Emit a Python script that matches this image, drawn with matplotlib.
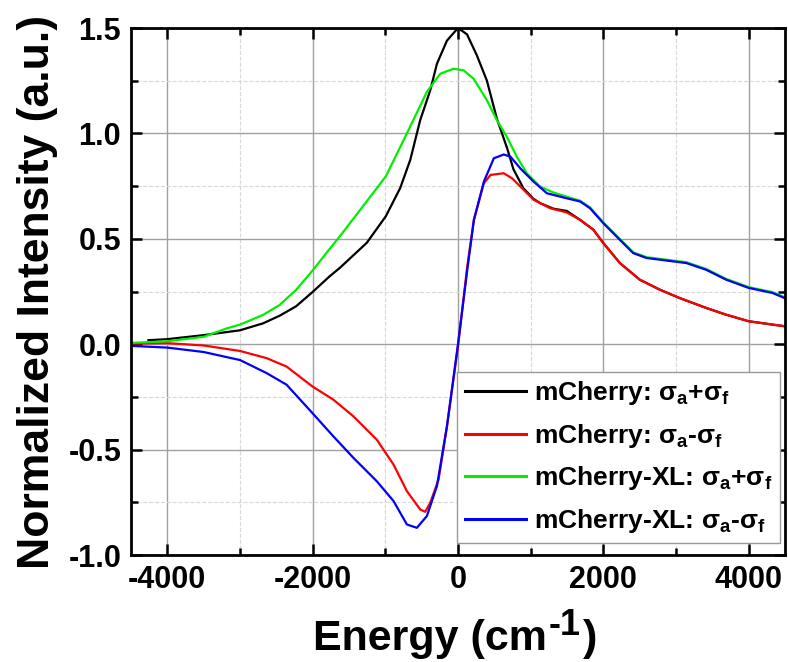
import numpy as np
import matplotlib.pyplot as plt
from matplotlib.ticker import MultipleLocator

plt.rcParams['font.family'] = ['Liberation Sans', 'DejaVu Sans']
plt.rcParams['mathtext.fontset'] = 'custom'
plt.rcParams['mathtext.rm'] = 'Liberation Sans:bold'
plt.rcParams['mathtext.bf'] = 'Liberation Sans:bold'
plt.rcParams['mathtext.default'] = 'rm'
plt.rcParams['axes.unicode_minus'] = False

# mCherry: sigma_a + sigma_f
energy_mc_sum = [-4260, -4000, -3500, -3000, -2682, -2455, -2227, -2000, -1773, -1623,
                 -1255, -993, -795, -657, -520, -382, -290, -152, 0, 124, 260, 398,
                 535, 676, 763, 900, 1038, 1132, 1312, 1498, 1680, 1863, 2000, 2228,
                 2502, 2776, 3050, 3416, 3690, 4000, 4329, 4500]
int_mc_sum = [0.019, 0.024, 0.043, 0.066, 0.099, 0.135, 0.180, 0.248, 0.320, 0.363,
              0.481, 0.607, 0.741, 0.874, 1.063, 1.204, 1.330, 1.440, 1.500, 1.470,
              1.370, 1.250, 1.070, 0.930, 0.830, 0.740, 0.690, 0.669, 0.643, 0.632,
              0.590, 0.543, 0.480, 0.385, 0.306, 0.259, 0.219, 0.172, 0.140, 0.109,
              0.093, 0.085]

# mCherry: sigma_a - sigma_f
energy_mc_diff = [-4500, -4000, -3500, -3000, -2634, -2359, -2005, -1715, -1439, -1117,
                  -887, -703, -520, -451, -382, -267, -152, 0, 128, 219, 356, 447, 630,
                  744, 858, 1041, 1269, 1498, 1680, 1863, 2000, 2228, 2502, 2776, 3050,
                  3416, 3690, 4000, 4329, 4500]
int_mc_diff = [0.003, 0.005, -0.006, -0.032, -0.066, -0.106, -0.200, -0.263, -0.342,
               -0.453, -0.571, -0.697, -0.784, -0.795, -0.752, -0.642, -0.390, -0.010,
               0.370, 0.590, 0.763, 0.803, 0.811, 0.787, 0.748, 0.685, 0.645, 0.625,
               0.590, 0.543, 0.480, 0.385, 0.306, 0.259, 0.219, 0.172, 0.140, 0.109,
               0.093, 0.085]

# mCherry-XL: sigma_a + sigma_f
energy_xl_sum = [-4500, -4000, -3500, -3182, -3000, -2682, -2455, -2227, -2000, -1773,
                 -1623, -1255, -993, -703, -428, -244, -60, 78, 216, 398, 535, 672, 809,
                 946, 1129, 1312, 1541, 1680, 1817, 2000, 2228, 2411, 2594, 2959, 3142,
                 3416, 3690, 4000, 4329, 4500]
int_xl_sum = [0.006, 0.014, 0.035, 0.075, 0.093, 0.139, 0.186, 0.258, 0.350, 0.449,
              0.513, 0.678, 0.796, 1.000, 1.197, 1.283, 1.307, 1.299, 1.259, 1.157,
              1.063, 0.984, 0.890, 0.811, 0.748, 0.720, 0.695, 0.681, 0.649, 0.578,
              0.499, 0.436, 0.413, 0.397, 0.389, 0.357, 0.310, 0.271, 0.247, 0.222]

# mCherry-XL: sigma_a - sigma_f
energy_xl_diff = [-4500, -4000, -3500, -3000, -2634, -2359, -2005, -1715, -1439, -1117,
                  -887, -703, -566, -428, -290, -152, 0, 128, 219, 356, 493, 630, 721,
                  858, 1041, 1224, 1498, 1680, 1817, 2000, 2228, 2411, 2594, 2959, 3142,
                  3416, 3690, 4000, 4329, 4500]
int_xl_diff = [-0.008, -0.016, -0.037, -0.075, -0.137, -0.192, -0.326, -0.437, -0.539,
               -0.650, -0.744, -0.855, -0.871, -0.815, -0.673, -0.390, 0.000, 0.353,
               0.590, 0.771, 0.882, 0.900, 0.890, 0.834, 0.771, 0.716, 0.692, 0.677,
               0.645, 0.574, 0.495, 0.432, 0.409, 0.393, 0.385, 0.353, 0.306, 0.267,
               0.243, 0.218]

labels = [r'mCherry: σ$_a$+σ$_f$', r'mCherry: σ$_a$-σ$_f$',
          r'mCherry-XL: σ$_a$+σ$_f$', r'mCherry-XL: σ$_a$-σ$_f$']
colors = ['#000000', '#ff0000', '#00ee00', '#0000ff']

W, H = 788, 662
fig = plt.figure(figsize=(W / 100, H / 100), dpi=100)
ax = fig.add_axes([0.1662, 0.1616, 0.8300, 0.7961])

series = [(energy_mc_sum, int_mc_sum), (energy_mc_diff, int_mc_diff),
          (energy_xl_sum, int_xl_sum), (energy_xl_diff, int_xl_diff)]
for (e, v), lab, c in zip(series, labels, colors):
    ax.plot(e, v, color=c, lw=1.6, label=lab)

ax.set_xlim(-4500, 4500)
ax.set_ylim(-1.0, 1.5)
ax.xaxis.set_major_locator(MultipleLocator(2000))
ax.xaxis.set_minor_locator(MultipleLocator(1000))
ax.yaxis.set_major_locator(MultipleLocator(0.5))
ax.yaxis.set_minor_locator(MultipleLocator(0.25))
ax.yaxis.set_major_formatter(plt.FuncFormatter(lambda v, p: f'{v:.1f}'))

ax.grid(which='major', color='#a0a0a0', lw=1.0, ls='-')
ax.grid(which='minor', color='#d8d8d8', lw=0.8, ls='--')
ax.set_axisbelow(True)

ax.tick_params(which='both', direction='in', top=True, right=True, width=1.8)
ax.tick_params(which='major', length=8, labelsize=22, pad=7)
ax.tick_params(which='minor', length=5)
for lab in ax.get_xticklabels() + ax.get_yticklabels():
    lab.set_fontweight('bold')
for s in ax.spines.values():
    s.set_linewidth(2.0)

ax.set_ylabel('Normalized Intensity (a.u.)', fontsize=32, fontweight='bold')
ax.yaxis.set_label_coords(-0.112, 0.5)

# x label with a large superscript, laid out piece by piece
renderer = fig.canvas.get_renderer()
t1 = fig.text(313 / W, 12 / H, 'Energy (cm', fontsize=31, fontweight='bold',
              ha='left', va='baseline')
x1 = t1.get_window_extent(renderer).x1
t2 = fig.text((x1 + 2) / W, 27 / H, '-1', fontsize=26, fontweight='bold',
              ha='left', va='baseline')
x2 = t2.get_window_extent(renderer).x1
fig.text((x2 + 2) / W, 12 / H, ')', fontsize=31, fontweight='bold',
         ha='left', va='baseline')

leg = ax.legend(loc='lower right', bbox_to_anchor=(0.992, 0.023), borderaxespad=0,
                fancybox=False, framealpha=1, edgecolor='#999999', handlelength=2.3,
                handletextpad=0.3, borderpad=0.3, labelspacing=0.55,
                prop={'size': 19, 'weight': 'bold'})
for line in leg.get_lines():
    line.set_linewidth(2.2)

fig.savefig('out.png', dpi=100)
